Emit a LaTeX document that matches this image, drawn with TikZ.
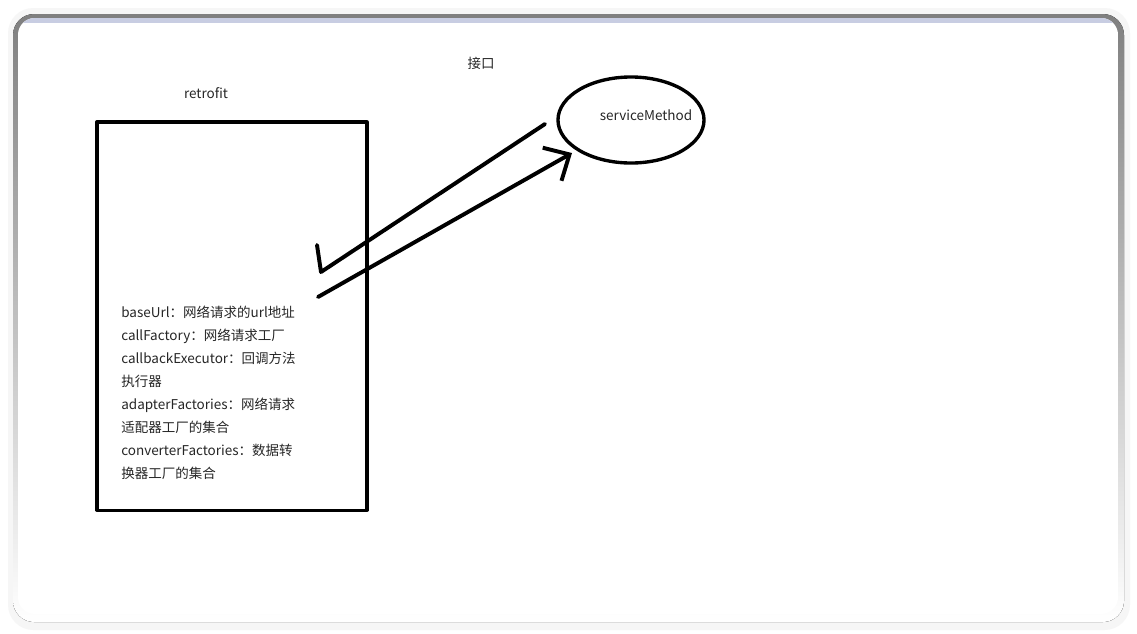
\documentclass[tikz,border=0pt]{standalone}
\usepackage{fontspec}
\usepackage{tikz}
\usetikzlibrary{shapes.geometric,arrows.meta}
\newfontfamily\cjk{Noto Sans CJK SC}
\definecolor{cardtop}{RGB}{200,205,226}
\definecolor{shade}{RGB}{236,236,236}

\begin{document}
\begin{tikzpicture}[x=0.025cm, y=-0.025cm, font={\cjk\fontsize{9.6}{16.3}\selectfont}, line join=round, line cap=round,
    main/.style = {draw, line width=2.2pt},
    pen/.style = {draw, line width=2.8pt},
    txt/.style = {inner sep=0pt, text=black!85}]
                % card and margins
                \useasboundingbox (0,0) rectangle (1137,633);
                \fill[white] (0,0) rectangle (1137,633);
                \fill[shade!50, rounded corners=18pt] (8,8) rectangle (1130,630);
                \fill[shade, rounded corners=15pt] (13,14) rectangle (1124,622);
                \begin{scope}
                    \clip[rounded corners=12pt] (18,18) rectangle (1118,614);
                    \fill[white] (18,18) rectangle (1118,614);
                    \fill[cardtop] (18,18) rectangle (1118,23);
                \end{scope}
                % nodes
                \node[txt] (retro) at (206,93) {retrofit};
                \node[main, rectangle, minimum width=6.75cm, minimum height=9.7cm, inner sep=0pt] (box) at (232,316) {};
                \node[txt, anchor=north west, align=left] (fields) at (121,306) {baseUrl：网络请求的url地址\\callFactory：网络请求工厂\\callbackExecutor：回调方法\\执行器\\adapterFactories：网络请求\\适配器工厂的集合\\converterFactories：数据转\\换器工厂的集合};
                \node[txt] (iface) at (481,63) {接口};
                \node[main, ellipse, line width=2.4pt, minimum width=3.65cm, minimum height=2.15cm, inner sep=0pt] (sm) at (631,120) {};
                \node[txt] (smlabel) at (646,115) {serviceMethod};
                % strokes
                \coordinate (c0) at (317,245);
                \coordinate (c1) at (321,272);
                \coordinate (c2) at (545,124);
                \coordinate (a0) at (318,297);
                \coordinate (a1) at (572,153);
                \draw[pen] (c0) -- (c1) -- (c2);
                \draw[pen, -{Straight Barb[length=0.5cm, width=0.95cm]}] (a0) -- (a1);
            \end{tikzpicture}
\end{document}
